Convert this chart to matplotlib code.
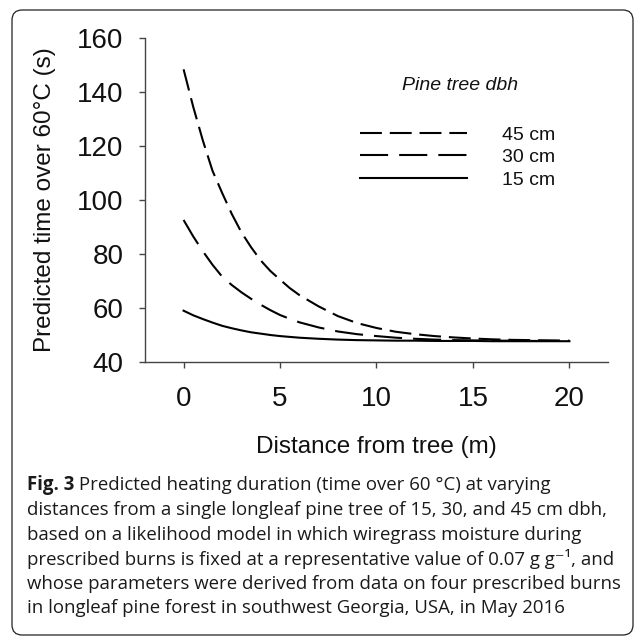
import matplotlib
matplotlib.use("Agg")
import matplotlib.pyplot as plt
from matplotlib.patches import FancyBboxPatch

# ---- data ----
distance = [0, 0.5, 1, 1.5, 2, 2.5, 3, 3.5, 4, 4.5, 5, 5.5, 6,
            7, 8, 9, 10, 11, 12, 13, 14, 15, 16, 17, 18, 19, 20]
time_45 = [148.4, 134.5, 122.0, 110.8, 102.6, 94.8, 88.0, 82.5, 77.6, 73.7, 70.5, 67.4, 64.8,
           60.6, 57.0, 54.4, 52.6, 51.2, 50.3, 49.6, 49.1, 48.7, 48.4, 48.2, 48.1, 48.0, 47.9]
time_30 = [92.6, 86.5, 81.0, 76.0, 71.6, 68.5, 65.8, 63.4, 61.2, 59.2, 57.4, 56.0, 54.7,
           52.8, 51.3, 50.3, 49.6, 49.0, 48.6, 48.3, 48.1, 48.0, 47.9, 47.9, 47.8, 47.8, 47.8]
time_15 = [59.0, 57.3, 55.9, 54.6, 53.4, 52.5, 51.7, 51.0, 50.5, 50.0, 49.6, 49.3, 49.0,
           48.6, 48.3, 48.1, 48.0, 47.9, 47.9, 47.8, 47.8, 47.8, 47.7, 47.7, 47.7, 47.7, 47.7]
series_labels = ["45 cm", "30 cm", "15 cm"]
legend_title = "Pine tree dbh"
xticks = [0, 5, 10, 15, 20]
yticks = [40, 60, 80, 100, 120, 140, 160]
xlabel = "Distance from tree (m)"
ylabel = "Predicted time over 60°C (s)"
caption_bold = "Fig. 3"
caption_lines = [
    " Predicted heating duration (time over 60 °C) at varying",
    "distances from a single longleaf pine tree of 15, 30, and 45 cm dbh,",
    "based on a likelihood model in which wiregrass moisture during",
    "prescribed burns is fixed at a representative value of 0.07 g g⁻¹, and",
    "whose parameters were derived from data on four prescribed burns",
    "in longleaf pine forest in southwest Georgia, USA, in May 2016",
]

W = H = 636
DPI = 100
plt.rcParams['font.family'] = ['Liberation Sans', 'DejaVu Sans']
fig = plt.figure(figsize=(W / DPI, H / DPI), dpi=DPI)

def fx(px):
    return px / W

def fy(py):
    return 1 - py / H

ax = fig.add_axes([fx(145), fy(362), fx(608) - fx(145), fy(38) - fy(362)])

lw = 1.5
l45, = ax.plot(distance, time_45, color='black', lw=lw, dashes=(10.5, 3.8))
l30, = ax.plot(distance, time_30, color='black', lw=lw, dashes=(13.5, 5.3))
l15, = ax.plot(distance, time_15, color='black', lw=lw)

ax.set_xlim(-2, 22)
ax.set_ylim(40, 160)
ax.set_xticks(xticks)
ax.set_yticks(yticks)
for s in ['top', 'right']:
    ax.spines[s].set_visible(False)
for s in ['left', 'bottom']:
    ax.spines[s].set_color('#444444')
    ax.spines[s].set_linewidth(1.0)
ax.tick_params(axis='both', direction='out', length=4.5, width=1.0, color='#444444',
               labelsize=20, labelcolor='#111111')
ax.tick_params(axis='y', pad=11)
ax.tick_params(axis='x', pad=13)

fig.text(fx(376), fy(447), xlabel, ha='center', va='center', fontsize=17.5, color='#111111')
fig.text(fx(45), fy(200), ylabel, ha='center', va='center', rotation=90, fontsize=17.5,
         color='#111111')

leg = ax.legend([l45, l30, l15], series_labels, loc='upper left',
                bbox_to_anchor=(fx(360), fy(126)), bbox_transform=fig.transFigure,
                frameon=False, fontsize=14, handlelength=5.5, handletextpad=1.8,
                labelspacing=0.25, borderpad=0, borderaxespad=0)
for t in leg.get_texts():
    t.set_color('#111111')
fig.text(fx(460), fy(85), legend_title, ha='center', va='center', fontsize=14,
         style='italic', color='#111111')

# caption
cap_font = ['Open Sans', 'DejaVu Sans']
cap_size = 13.4
line_y = [485, 510, 535, 559, 584, 608]
x0 = fx(27)
cap_color = '#1a1a1a'
tb = fig.text(x0, fy(line_y[0]), caption_bold, ha='left', va='center', fontsize=cap_size,
              fontweight='bold', family=cap_font, color=cap_color)
renderer = fig.canvas.get_renderer()
bb = tb.get_window_extent(renderer=renderer)
fig.text(bb.x1 / W, fy(line_y[0]), caption_lines[0], ha='left', va='center',
         fontsize=cap_size, family=cap_font, color=cap_color)
for yy, line in zip(line_y[1:], caption_lines[1:]):
    fig.text(x0, fy(yy), line, ha='left', va='center', fontsize=cap_size,
             family=cap_font, color=cap_color)

border = FancyBboxPatch((fx(12), fy(635)), fx(633) - fx(12), fy(10) - fy(635),
                        boxstyle='round,pad=0,rounding_size=0.016',
                        transform=fig.transFigure, facecolor='none',
                        edgecolor='#222222', linewidth=0.9, clip_on=False)
fig.patches.append(border)

fig.savefig('out.png', dpi=DPI)
